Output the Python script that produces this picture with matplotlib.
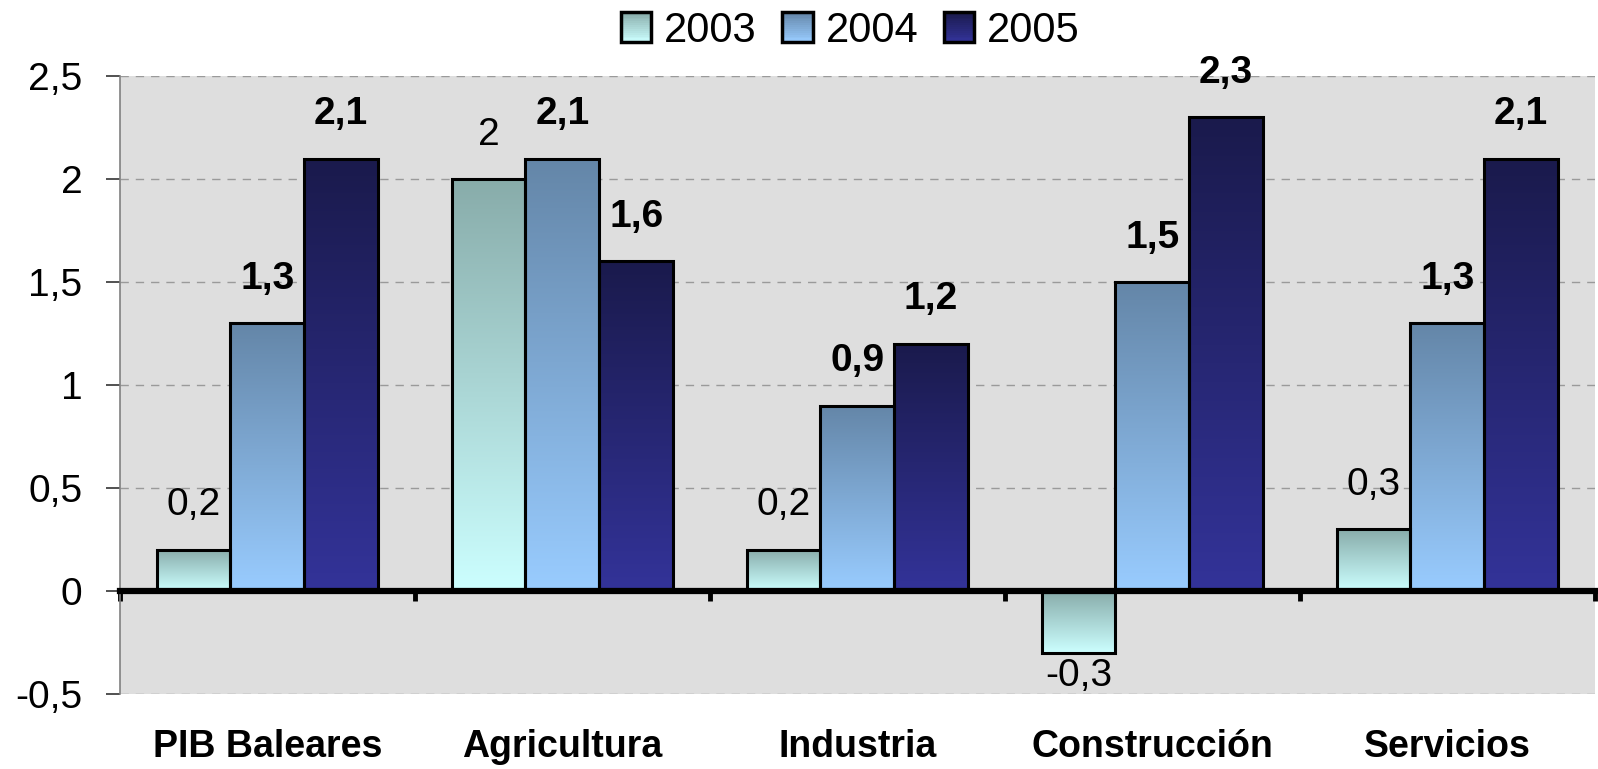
import matplotlib
matplotlib.use('Agg')
import matplotlib.pyplot as plt
import numpy as np
from matplotlib.colors import LinearSegmentedColormap, to_rgb
from matplotlib.patches import Rectangle
from matplotlib.legend_handler import HandlerBase

plt.rcParams['font.family'] = ['Liberation Sans', 'DejaVu Sans']

# datos
categorias = ['PIB Baleares', 'Agricultura', 'Industria', 'Construcción', 'Servicios']
anios = ['2003', '2004', '2005']
v2003 = [0.2, 2.0, 0.2, -0.3, 0.3]
v2004 = [1.3, 2.1, 0.9, 1.5, 1.3]
v2005 = [2.1, 1.6, 1.2, 2.3, 2.1]
series = [v2003, v2004, v2005]

# colores degradado (abajo claro, arriba oscuro)
colores = [('#CCFFFF', '#88ACAA'), ('#99CCFF', '#6486A8'), ('#333399', '#1A1A4C')]
negrita = [False, True, True]

def fmt(v):
    return f'{v:g}'.replace('.', ',')


class HandlerDegradado(HandlerBase):
    def __init__(self, c_bajo, c_alto):
        super().__init__()
        self.c_bajo = np.array(to_rgb(c_bajo))
        self.c_alto = np.array(to_rgb(c_alto))

    def create_artists(self, legend, orig_handle, xdescent, ydescent,
                       width, height, fontsize, trans):
        lado = min(width, height)
        x0 = -xdescent + (width - lado) / 2
        y0 = -ydescent + (height - lado) / 2
        n = 16
        arts = []
        for i in range(n):
            t = i / (n - 1)
            c = self.c_bajo * (1 - t) + self.c_alto * t
            arts.append(Rectangle((x0, y0 + i * lado / n), lado, lado / n,
                                  facecolor=c, edgecolor='none', transform=trans))
        arts.append(Rectangle((x0, y0), lado, lado, facecolor='none',
                              edgecolor='black', linewidth=2.5, transform=trans))
        return arts


fig = plt.figure(figsize=(15.98, 7.69), dpi=100)
ax = fig.add_axes([0.075, 0.0975, 0.923, 0.8035])
ax.set_facecolor('#DEDEDE')

x = np.arange(len(categorias))
ancho = 0.25
handles = []
for i, (vals, (cb, ca)) in enumerate(zip(series, colores)):
    cmap = LinearSegmentedColormap.from_list('g%d' % i, [cb, ca])
    pos = x + (i - 1) * ancho
    bars = ax.bar(pos, vals, ancho, facecolor='none', edgecolor='black',
                  linewidth=2.2, zorder=3, label=anios[i])
    handles.append(bars)
    peso = 'bold' if negrita[i] else 'normal'
    for b, v in zip(bars, vals):
        x0 = b.get_x()
        grad = np.linspace(0, 1, 256).reshape(-1, 1)
        ax.imshow(grad, extent=[x0, x0 + ancho, min(0, v), max(0, v)],
                  origin='lower', cmap=cmap, aspect='auto', zorder=2,
                  interpolation='bicubic')
        if v >= 0:
            ax.annotate(fmt(v), (x0 + ancho / 2, v), xytext=(0, 19),
                        textcoords='offset points', ha='center', va='bottom',
                        fontsize=28, fontweight=peso)
        else:
            ax.annotate(fmt(v), (x0 + ancho / 2, v), xytext=(0, -4),
                        textcoords='offset points', ha='center', va='top',
                        fontsize=28, fontweight=peso)

ax.set_xlim(-0.5, len(categorias) - 0.5)
ax.set_ylim(-0.5, 2.5)

# eje y
yt = np.arange(-0.5, 2.51, 0.5)
ax.set_yticks(yt)
ax.set_yticklabels([fmt(round(t, 1)) for t in yt], fontsize=28)
ax.yaxis.grid(True, linestyle=(0, (6, 5)), color='#9A9A9A', linewidth=1)
ax.set_axisbelow(True)
ax.tick_params(axis='y', length=10, width=1.2, color='#333333', pad=17)

# eje x en cero
ax.spines['top'].set_visible(False)
ax.spines['right'].set_visible(False)
ax.spines['left'].set_color('#808080')
ax.spines['left'].set_linewidth(1.2)
ax.spines['bottom'].set_position(('data', 0))
ax.spines['bottom'].set_linewidth(4.5)
ax.spines['bottom'].set_zorder(5)
ax.set_xticks(np.arange(-0.5, len(categorias), 1.0))
ax.set_xticklabels([])
ax.tick_params(axis='x', direction='out', length=7, width=3.5, color='black')

# etiquetas de categoría
sec = ax.secondary_xaxis(0)
sec.set_xticks(x)
sec.set_xticklabels(categorias, fontsize=27, fontweight='bold')
sec.tick_params(length=0, pad=25)
sec.spines['bottom'].set_visible(False)

leg = fig.legend(handles, anios, loc='upper center', bbox_to_anchor=(0.532, 1.035),
                 ncol=3, frameon=False, fontsize=30, handlelength=0.75,
                 handleheight=0.75, handletextpad=0.3, columnspacing=0.6,
                 handler_map={h: HandlerDegradado(cb, ca) for h, (cb, ca) in zip(handles, colores)})

fig.savefig('out.png', dpi=100)
